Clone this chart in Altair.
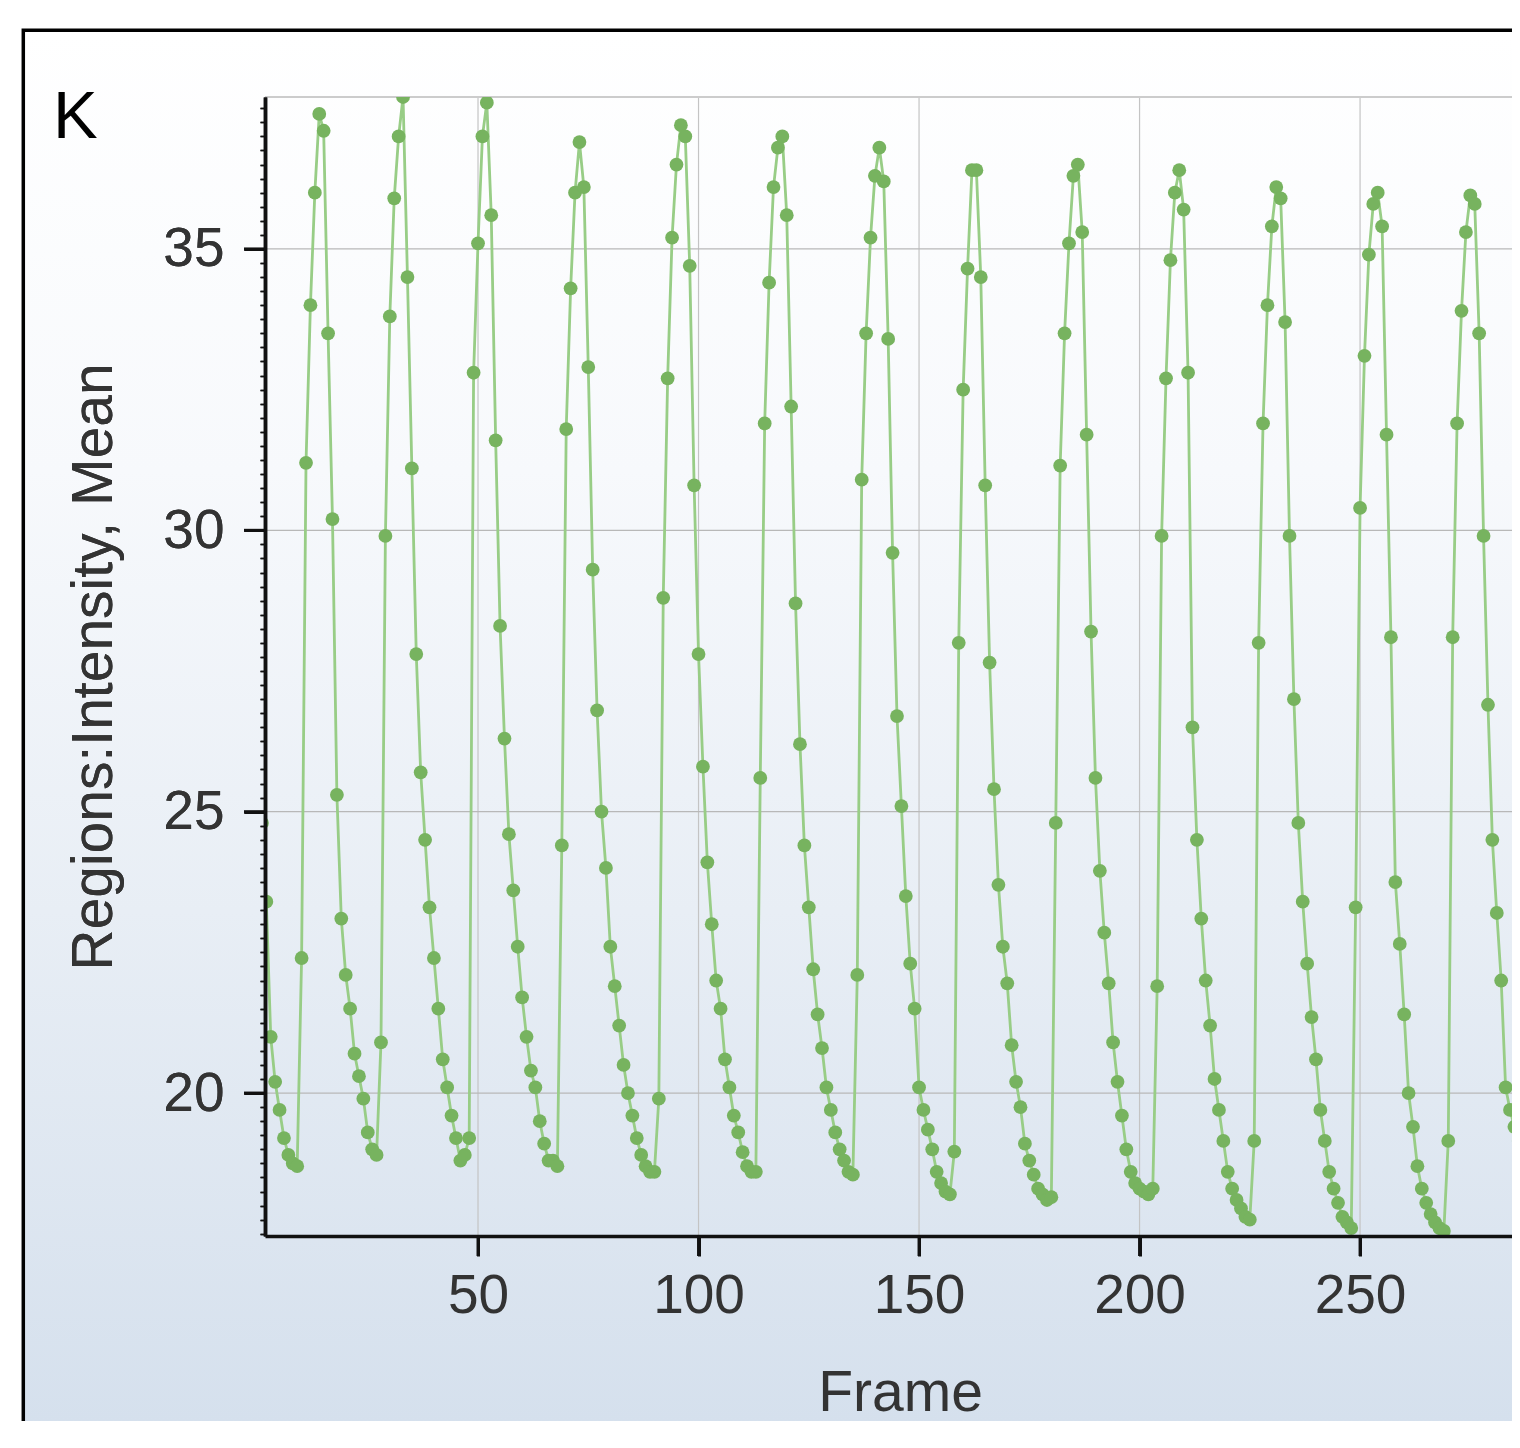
import altair as alt
import pandas as pd

panel_label = "K"
x_title = "Frame"
y_title = "Regions:Intensity, Mean"
x_ticks = [50, 100, 150, 200, 250]
y_ticks = [20, 25, 30, 35]
y_minor_step = 0.25

intensity = [
    24.8, 23.4, 21.0, 20.2, 19.7, 19.2, 18.9, 18.75, 18.7,
    22.4, 31.2, 34.0, 36.0, 37.4, 37.1, 33.5, 30.2, 25.3, 23.1, 22.1, 21.5, 20.7, 20.3, 19.9, 19.3, 19.0, 18.9,
    20.9, 29.9, 33.8, 35.9, 37.0, 37.7, 34.5, 31.1, 27.8, 25.7, 24.5, 23.3, 22.4, 21.5, 20.6, 20.1, 19.6, 19.2, 18.8, 18.9, 19.2,
    32.8, 35.1, 37.0, 37.6, 35.6, 31.6, 28.3, 26.3, 24.6, 23.6, 22.6, 21.7, 21.0, 20.4, 20.1, 19.5, 19.1, 18.8, 18.8, 18.7,
    24.4, 31.8, 34.3, 36.0, 36.9, 36.1, 32.9, 29.3, 26.8, 25.0, 24.0, 22.6, 21.9, 21.2, 20.5, 20.0, 19.6, 19.2, 18.9, 18.7, 18.6, 18.6, 19.9,
    28.8, 32.7, 35.2, 36.5, 37.2, 37.0, 34.7, 30.8, 27.8, 25.8, 24.1, 23.0, 22.0, 21.5, 20.6, 20.1, 19.6, 19.3, 18.95, 18.7, 18.6, 18.6,
    25.6, 31.9, 34.4, 36.1, 36.8, 37.0, 35.6, 32.2, 28.7, 26.2, 24.4, 23.3, 22.2, 21.4, 20.8, 20.1, 19.7, 19.3, 19.0, 18.8, 18.6, 18.55,
    22.1, 30.9, 33.5, 35.2, 36.3, 36.8, 36.2, 33.4, 29.6, 26.7, 25.1, 23.5, 22.3, 21.5, 20.1, 19.7, 19.35, 19.0, 18.6, 18.4, 18.25, 18.2, 18.96,
    28.0, 32.5, 34.65, 36.4, 36.4, 34.5, 30.8, 27.65, 25.4, 23.7, 22.6, 21.95, 20.85, 20.2, 19.75, 19.1, 18.8, 18.55, 18.3, 18.2, 18.1, 18.15,
    24.8, 31.15, 33.5, 35.1, 36.3, 36.5, 35.3, 31.7, 28.2, 25.6, 23.95, 22.85, 21.95, 20.9, 20.2, 19.6, 19.0, 18.6, 18.4, 18.3, 18.25, 18.2, 18.3,
    21.9, 29.9, 32.7, 34.8, 36.0, 36.4, 35.7, 32.8, 26.5, 24.5, 23.1, 22.0, 21.2, 20.25, 19.7, 19.15, 18.6, 18.3, 18.1, 17.95, 17.8, 17.75,
    19.15, 28.0, 31.9, 34.0, 35.4, 36.1, 35.9, 33.7, 29.9, 27.0, 24.8, 23.4, 22.3, 21.35, 20.6, 19.7, 19.15, 18.6, 18.3, 18.05, 17.8, 17.7, 17.6,
    23.3, 30.4, 33.1, 34.9, 35.8, 36.0, 35.4, 31.7, 28.1, 23.75, 22.65, 21.4, 20.0, 19.4, 18.7, 18.3, 18.05, 17.85, 17.7, 17.6, 17.55, 19.15,
    28.1, 31.9, 33.9, 35.3, 35.95, 35.8, 33.5, 29.9, 26.9, 24.5, 23.2, 22.0, 20.1, 19.7, 19.4, 19.15, 18.8,
]
frames = list(range(1, len(intensity) + 1))

df = pd.DataFrame({"Frame": frames, "Mean": intensity})

W, H = 1247, 1139
x_dom = [1.7, 284.45]
y_dom = [17.46, 37.70]
xs = alt.Scale(domain=x_dom, nice=False, zero=False)
ys = alt.Scale(domain=y_dom, nice=False, zero=False)

n_minor = int(round((37.5 - 17.5) / y_minor_step)) + 1
y_minor_values = [round(17.5 + y_minor_step * i, 2) for i in range(n_minor)]

FONT = "Liberation Sans"
TXT = "#333333"
AXC = "#111111"

x_axis = alt.Axis(
    values=x_ticks, title=x_title, grid=False, zindex=1, format="d",
    domainColor=AXC, domainWidth=3.5, tickColor=AXC, tickWidth=3, tickSize=20,
    labelFont=FONT, labelFontSize=55, labelColor=TXT, labelPadding=13,
    labelFlush=False, labelOverlap=False,
    titleFont=FONT, titleFontSize=57, titleColor=TXT, titleFontWeight="normal",
    titleX=635, titleY=174, titleAlign="center", titleBaseline="alphabetic",
)
y_axis_major = alt.Axis(
    orient="left", values=y_ticks, title=y_title, grid=False, zindex=2, format="d",
    domainColor=AXC, domainWidth=3.5, tickColor=AXC, tickWidth=3, tickSize=21,
    labelFont=FONT, labelFontSize=55, labelColor=TXT, labelPadding=20,
    labelFlush=False, labelOverlap=False,
    titleFont=FONT, titleFontSize=57, titleColor=TXT, titleFontWeight="normal",
    titleAngle=270, titleX=-154, titleY=H / 2, titleAlign="center", titleBaseline="alphabetic",
)
y_axis_minor = alt.Axis(
    orient="left", values=y_minor_values, title="", grid=False, zindex=1,
    labels=False, domain=False, tickColor=AXC, tickWidth=1.5, tickSize=5,
)

gradient = alt.LinearGradient(
    gradient="linear",
    stops=[
        alt.GradientStop(color="#ffffff", offset=0),
        alt.GradientStop(color="#f7f9fc", offset=0.3),
        alt.GradientStop(color="#e8eef5", offset=0.6),
        alt.GradientStop(color="#d5e0ed", offset=0.95),
        alt.GradientStop(color="#d2deeb", offset=1),
    ],
    x1=0, x2=0, y1=0, y2=1,
)

one = alt.Data(values=[{}])
xgrid_df = pd.DataFrame({"Frame": x_ticks})
ygrid_df = pd.DataFrame({"Mean": y_ticks})

bg = alt.Chart(one).mark_rect(fill=gradient, stroke="#000000", strokeWidth=3.5).encode(
    x=alt.value(-241.7), x2=alt.value(1400), y=alt.value(-66.7), y2=alt.value(1400)
)

vgrid = alt.Chart(xgrid_df).mark_rule(color="#c4c4c4", strokeWidth=1.2).encode(
    x=alt.X("Frame:Q", scale=xs, axis=x_axis)
)
hgrid = alt.Chart(ygrid_df).mark_rule(color="#b8b8b8", strokeWidth=1.3).encode(
    y=alt.Y("Mean:Q", scale=ys, axis=y_axis_major)
)
top = alt.Chart(one).mark_rule(color="#cccccc", strokeWidth=2).encode(
    x=alt.value(0), x2=alt.value(W + 10), y=alt.value(0)
)

# major tick marks drawn outside the plot area
xtick_marks = alt.Chart(xgrid_df).mark_rule(color=AXC, strokeWidth=3).encode(
    x=alt.X("Frame:Q", scale=xs, axis=x_axis), y=alt.value(H), y2=alt.value(H + 20)
)
ytick_marks = alt.Chart(ygrid_df).mark_rule(color=AXC, strokeWidth=3).encode(
    y=alt.Y("Mean:Q", scale=ys, axis=y_axis_major), x=alt.value(-21), x2=alt.value(0)
)

line = alt.Chart(df).mark_line(color="#98cd86", strokeWidth=2.8, clip=True).encode(
    x=alt.X("Frame:Q", scale=xs, axis=x_axis),
    y=alt.Y("Mean:Q", scale=ys, axis=y_axis_minor),
)
pts = alt.Chart(df).mark_circle(color="#77b35f", size=190, opacity=1, clip=True).encode(
    x=alt.X("Frame:Q", scale=xs, axis=x_axis),
    y=alt.Y("Mean:Q", scale=ys, axis=y_axis_minor),
)

klabel = alt.Chart(one).mark_text(
    text=panel_label, font=FONT, fontSize=67, color="#000000", align="left", baseline="alphabetic"
).encode(x=alt.value(-212), y=alt.value(41))

chart = alt.layer(
    bg, vgrid, hgrid, top, xtick_marks, ytick_marks, line, pts, klabel
).resolve_axis(y="independent").properties(
    width=W, height=H,
    autosize=alt.AutoSizeParams(type="none"),
    padding={"left": 257, "top": 89, "right": 0, "bottom": 185},
).configure_view(stroke="transparent").configure(background="#ffffff")

chart.save("out.html", embed_options={"renderer": "svg", "actions": False})
